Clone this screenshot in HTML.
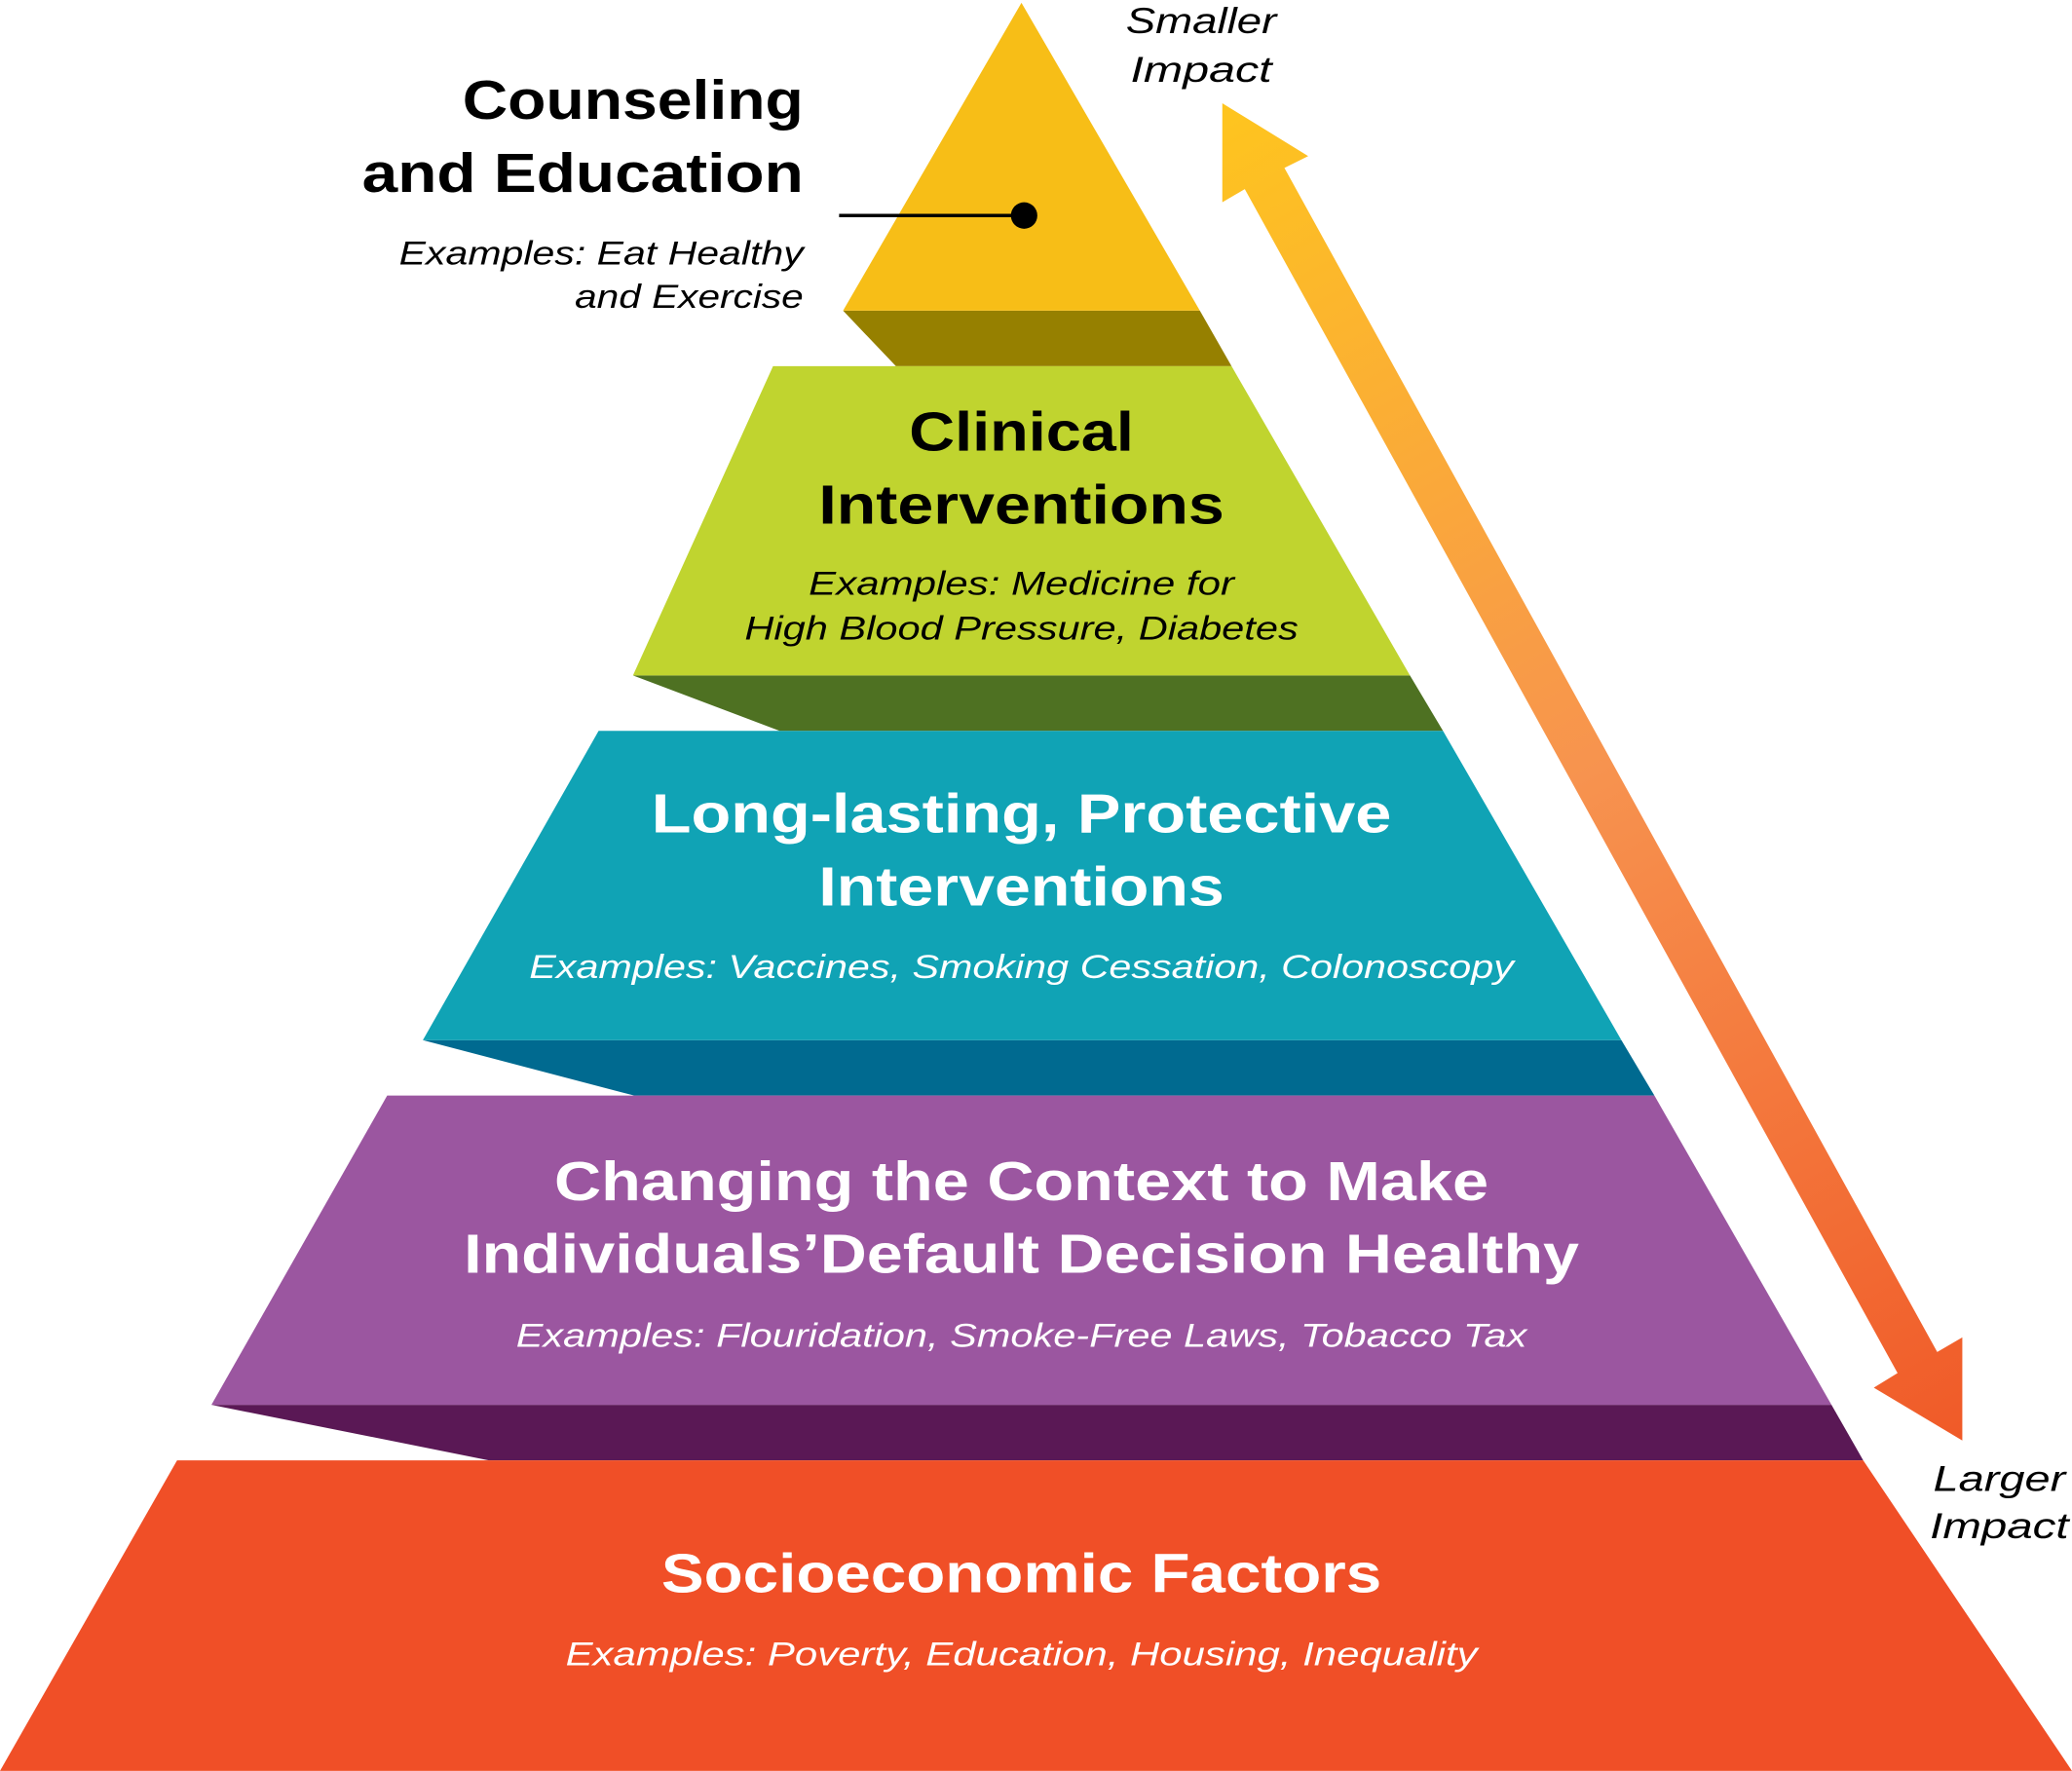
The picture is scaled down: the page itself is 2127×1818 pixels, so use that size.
<!DOCTYPE html>
<html><head><meta charset="utf-8"><style>
html,body{margin:0;padding:0;background:#fff;}
svg{display:block;}
text{font-family:"Liberation Sans",sans-serif;}
.t{font-weight:bold;font-size:42px;text-anchor:middle;}
.e{font-style:italic;font-size:25px;text-anchor:middle;}
</style></head><body>
<svg width="2127" height="1818" viewBox="0 0 1568 1340" xmlns="http://www.w3.org/2000/svg">
<defs>
<linearGradient id="g" x1="925" y1="78" x2="1485" y2="1090" gradientUnits="userSpaceOnUse">
<stop offset="0" stop-color="#fec51e"/><stop offset="0.5" stop-color="#f7934f"/><stop offset="1" stop-color="#f05a28"/>
</linearGradient>
</defs>
<polygon points="638,235 908,235 932,277 678,277" fill="#968000"/>
<polygon points="479,511 1067,511 1092,553 590,553" fill="#4e7122"/>
<polygon points="320,787 1227,787 1252,829 480,829" fill="#006a90"/>
<polygon points="160,1063 1386,1063 1410,1105 370,1105" fill="#5a1855"/>
<polygon points="773,2 908,235 638,235" fill="#f7be17"/>
<polygon points="585,277 932,277 1067,511 479,511" fill="#c0d42f"/>
<polygon points="453,553 1092,553 1227,787 320,787" fill="#10a3b5"/>
<polygon points="293,829 1252,829 1386,1063 160,1063" fill="#9b56a0"/>
<polygon points="134,1105 1410,1105 1568,1340 0,1340" fill="#f04f27"/>
<polygon points="925,78 990,118 972,127 1466,1023 1485,1012 1485,1090 1418,1050 1436,1039 942,143 925,153" fill="url(#g)"/>
<line x1="635" y1="163" x2="775" y2="163" stroke="#000" stroke-width="2.5"/>
<circle cx="775" cy="163" r="10" fill="#000"/>
<text x="350" y="90" style="font-weight:bold;font-size:42px" textLength="258" lengthAdjust="spacingAndGlyphs">Counseling</text>
<text x="274" y="145" style="font-weight:bold;font-size:42px" textLength="334" lengthAdjust="spacingAndGlyphs">and Education</text>
<text x="302" y="200" style="font-style:italic;font-size:25px" textLength="306" lengthAdjust="spacingAndGlyphs">Examples: Eat Healthy</text>
<text x="435" y="233" style="font-style:italic;font-size:25px" textLength="173" lengthAdjust="spacingAndGlyphs">and Exercise</text>
<text x="909" y="25" class="e" style="font-size:27px" textLength="114" lengthAdjust="spacingAndGlyphs">Smaller</text>
<text x="909" y="62" class="e" style="font-size:27px" textLength="107" lengthAdjust="spacingAndGlyphs">Impact</text>
<text x="1513" y="1128" class="e" style="font-size:27px" textLength="100" lengthAdjust="spacingAndGlyphs">Larger</text>
<text x="1513" y="1164" class="e" style="font-size:27px" textLength="105" lengthAdjust="spacingAndGlyphs">Impact</text>

<text x="773" y="341" class="t" textLength="170" lengthAdjust="spacingAndGlyphs">Clinical</text>
<text x="773" y="396" class="t" textLength="307" lengthAdjust="spacingAndGlyphs">Interventions</text>
<text x="773" y="450" class="e" textLength="322" lengthAdjust="spacingAndGlyphs">Examples: Medicine for</text>
<text x="773" y="484" class="e" textLength="419" lengthAdjust="spacingAndGlyphs">High Blood Pressure, Diabetes</text>

<g fill="#fff">
<text x="773" y="630" class="t" textLength="560" lengthAdjust="spacingAndGlyphs">Long-lasting, Protective</text>
<text x="773" y="685" class="t" textLength="307" lengthAdjust="spacingAndGlyphs">Interventions</text>
<text x="773" y="740" class="e" textLength="745" lengthAdjust="spacingAndGlyphs">Examples: Vaccines, Smoking Cessation, Colonoscopy</text>
<text x="773" y="908" class="t" textLength="707" lengthAdjust="spacingAndGlyphs">Changing the Context to Make</text>
<text x="773" y="963" class="t" textLength="844" lengthAdjust="spacingAndGlyphs">Individuals’Default Decision Healthy</text>
<text x="773" y="1019" class="e" textLength="765" lengthAdjust="spacingAndGlyphs">Examples: Flouridation, Smoke-Free Laws, Tobacco Tax</text>
<text x="773" y="1205" class="t" textLength="545" lengthAdjust="spacingAndGlyphs">Socioeconomic Factors</text>
<text x="773" y="1260" class="e" textLength="690" lengthAdjust="spacingAndGlyphs">Examples: Poverty, Education, Housing, Inequality</text>
</g>
</svg>
</body></html>
